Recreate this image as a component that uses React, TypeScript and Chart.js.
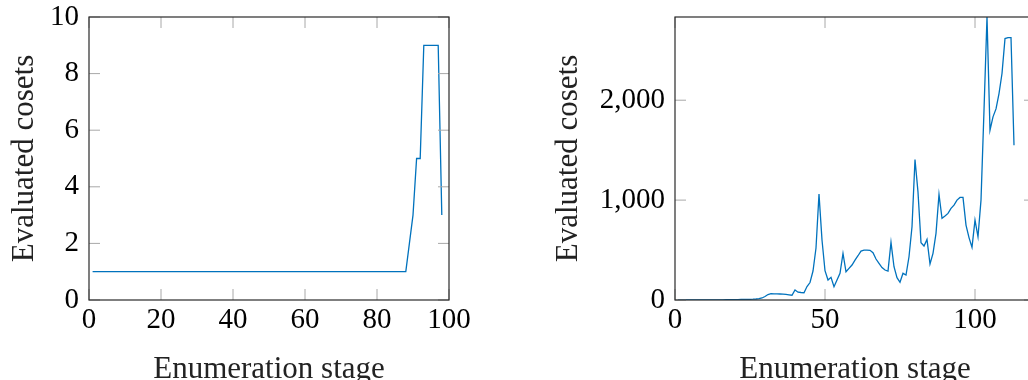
import React, { useEffect, useRef } from 'react';
import { Chart, registerables } from 'chart.js';

Chart.register(...registerables);

// ---------- data ----------
const leftStages = [
  1, 2, 3, 4, 5, 6, 7, 8, 9, 10, 11, 12, 13, 14, 15, 16, 17, 18, 19, 20,
  21, 22, 23, 24, 25, 26, 27, 28, 29, 30, 31, 32, 33, 34, 35, 36, 37, 38, 39, 40,
  41, 42, 43, 44, 45, 46, 47, 48, 49, 50, 51, 52, 53, 54, 55, 56, 57, 58, 59, 60,
  61, 62, 63, 64, 65, 66, 67, 68, 69, 70, 71, 72, 73, 74, 75, 76, 77, 78, 79, 80,
  81, 82, 83, 84, 85, 86, 87, 88, 89, 90, 91, 92, 93, 94, 95, 96, 97, 98,
];
const leftCosets = [
  1, 1, 1, 1, 1, 1, 1, 1, 1, 1, 1, 1, 1, 1, 1, 1, 1, 1, 1, 1,
  1, 1, 1, 1, 1, 1, 1, 1, 1, 1, 1, 1, 1, 1, 1, 1, 1, 1, 1, 1,
  1, 1, 1, 1, 1, 1, 1, 1, 1, 1, 1, 1, 1, 1, 1, 1, 1, 1, 1, 1,
  1, 1, 1, 1, 1, 1, 1, 1, 1, 1, 1, 1, 1, 1, 1, 1, 1, 1, 1, 1,
  1, 1, 1, 1, 1, 1, 1, 1, 2, 3, 5, 5, 9, 9, 9, 9, 9, 3,
];

const rightStages = [
  1, 2, 3, 4, 5, 6, 7, 8, 9, 10, 11, 12, 13, 14, 15, 16, 17, 18, 19, 20,
  21, 22, 23, 24, 25, 26, 27, 28, 29, 30, 31, 32, 33, 34, 35, 36, 37, 38, 39, 40,
  41, 42, 43, 44, 45, 46, 47, 48, 49, 50, 51, 52, 53, 54, 55, 56, 57, 58, 59, 60,
  61, 62, 63, 64, 65, 66, 67, 68, 69, 70, 71, 72, 73, 74, 75, 76, 77, 78, 79, 80,
  81, 82, 83, 84, 85, 86, 87, 88, 89, 90, 91, 92, 93, 94, 95, 96, 97, 98, 99, 100,
  101, 102, 103, 104, 105, 106, 107, 108, 109, 110, 111, 112, 113,
];
const rightCosets = [
  0, 0, 0, 0, 0, 1, 1, 1, 1, 1, 1, 1, 2, 2, 2, 2, 3, 3, 3, 4,
  4, 5, 5, 6, 7, 8, 10, 13, 20, 35, 55, 63, 62, 61, 60, 58, 56, 52, 48, 100,
  78, 75, 73, 135, 175, 290, 520, 1060, 600, 293, 200, 227, 133, 200, 267, 467, 283, 317, 350, 400,
  443, 490, 500, 500, 497, 473, 410, 367, 325, 300, 290, 577, 333, 223, 177, 267, 250, 433, 733, 1407,
  1080, 573, 540, 607, 360, 467, 667, 1057, 817, 840, 867, 917, 950, 1000, 1027, 1027, 750, 625, 527, 800,
  633, 1000, 1900, 2833, 1700, 1833, 1913, 2067, 2267, 2617, 2627, 2627, 1550,
];

const leftXTicks = [0, 20, 40, 60, 80, 100];
const leftYTicks = [0, 2, 4, 6, 8, 10];
const rightXTicks = [0, 50, 100];
const rightYTicks = [0, 1000, 2000];

// ---------- styling ----------
const FONT_FAMILY = "'Liberation Serif', 'Times New Roman', serif";
const LINE_COLOR = 'rgb(0,114,189)';
const X_TICK_FONT = { family: FONT_FAMILY, size: 29, lineHeight: 1.0 };
const Y_TICK_FONT = { family: FONT_FAMILY, size: 29, lineHeight: 0.3 };
const TITLE_FONT = { family: FONT_FAMILY, size: 31, lineHeight: 1.2 };

const framePlugin = {
  id: 'pgfFrame',
  afterDatasetsDraw(chart: any) {
    const { ctx, chartArea: a, scales } = chart;
    const x = scales.x;
    const y = scales.y;
    const L = 11;
    ctx.save();
    ctx.strokeStyle = '#a8a8a8';
    ctx.lineWidth = 1;
    ctx.beginPath();
    x.ticks.forEach((t: any) => {
      const px = x.getPixelForValue(t.value);
      ctx.moveTo(px, a.bottom);
      ctx.lineTo(px, a.bottom - L);
      ctx.moveTo(px, a.top);
      ctx.lineTo(px, a.top + L);
    });
    y.ticks.forEach((t: any) => {
      const py = y.getPixelForValue(t.value);
      ctx.moveTo(a.left, py);
      ctx.lineTo(a.left + L, py);
      ctx.moveTo(a.right, py);
      ctx.lineTo(a.right - L, py);
    });
    ctx.stroke();
    ctx.strokeStyle = '#2a2a2a';
    ctx.lineWidth = 1.2;
    ctx.strokeRect(a.left, a.top, a.right - a.left, a.bottom - a.top);
    ctx.restore();
  },
};

function makeConfig(opts: {
  stages: number[];
  values: number[];
  xMax: number;
  yMax: number;
  xTicks: number[];
  yTicks: number[];
  yWidth: number;
  padRight: number;
  yTitlePad: number;
  fmt: (v: number) => string;
}) {
  const points = opts.stages.map((s, i) => ({ x: s, y: opts.values[i] }));
  return {
    type: 'line' as const,
    data: {
      datasets: [
        {
          data: points,
          borderColor: LINE_COLOR,
          borderWidth: 1.3,
          pointRadius: 0,
          fill: false,
          tension: 0,
        },
      ],
    },
    options: {
      responsive: false,
      maintainAspectRatio: false,
      animation: false as const,
      layout: { padding: { top: 17, right: opts.padRight, left: 0, bottom: 0 } },
      plugins: { legend: { display: false }, tooltip: { enabled: false } },
      scales: {
        x: {
          type: 'linear' as const,
          min: 0,
          max: opts.xMax,
          afterBuildTicks: (s: any) => {
            s.ticks = opts.xTicks.map((v) => ({ value: v }));
          },
          ticks: {
            font: X_TICK_FONT,
            color: '#000',
            padding: 6,
            maxRotation: 0,
            autoSkip: false,
            callback: (v: any) => opts.fmt(Number(v)),
          },
          grid: { display: false, drawTicks: false },
          border: { display: false },
          title: {
            display: true,
            text: 'Enumeration stage',
            font: TITLE_FONT,
            color: '#222',
            padding: { top: 0, bottom: 12 },
          },
          afterFit: (s: any) => {
            s.height = 100;
          },
        },
        y: {
          type: 'linear' as const,
          min: 0,
          max: opts.yMax,
          afterBuildTicks: (s: any) => {
            s.ticks = opts.yTicks.map((v) => ({ value: v }));
          },
          ticks: {
            font: Y_TICK_FONT,
            color: '#000',
            padding: 10,
            autoSkip: false,
            callback: (v: any) => opts.fmt(Number(v)),
          },
          grid: { display: false, drawTicks: false },
          border: { display: false },
          title: {
            display: true,
            text: 'Evaluated cosets',
            font: TITLE_FONT,
            color: '#222',
            padding: { top: opts.yTitlePad, bottom: 0 },
          },
          afterFit: (s: any) => {
            s.width = opts.yWidth;
          },
        },
      },
    },
    plugins: [framePlugin],
  };
}

function ChartCanvas(props: { config: any; left: number; width: number; height: number }) {
  const ref = useRef<HTMLCanvasElement | null>(null);
  useEffect(() => {
    if (!ref.current) return;
    const chart = new Chart(ref.current, props.config);
    return () => chart.destroy();
  }, []);
  return (
    <canvas
      ref={ref}
      width={props.width}
      height={props.height}
      style={{
        position: 'absolute',
        left: props.left,
        top: 0,
        width: props.width,
        height: props.height,
      }}
    />
  );
}

const fmtPlain = (v: number) => String(v);
const fmtComma = (v: number) => v.toLocaleString('en-US');

export default function App() {
  const leftConfig = makeConfig({
    stages: leftStages,
    values: leftCosets,
    xMax: 100,
    yMax: 10,
    xTicks: leftXTicks,
    yTicks: leftYTicks,
    yWidth: 89,
    padRight: 31,
    yTitlePad: 6,
    fmt: fmtPlain,
  });
  const rightConfig = makeConfig({
    stages: rightStages,
    values: rightCosets,
    xMax: 120,
    yMax: Math.max(...rightCosets),
    xTicks: rightXTicks,
    yTicks: rightYTicks,
    yWidth: 135,
    padRight: 40,
    yTitlePad: 10,
    fmt: fmtComma,
  });
  return (
    <div
      style={{
        position: 'fixed',
        left: 0,
        top: 0,
        width: 1028,
        height: 380,
        overflow: 'hidden',
        background: '#fff',
      }}
    >
      <ChartCanvas config={leftConfig} left={0} width={480} height={400} />
      <ChartCanvas config={rightConfig} left={540} width={535} height={400} />
    </div>
  );
}
